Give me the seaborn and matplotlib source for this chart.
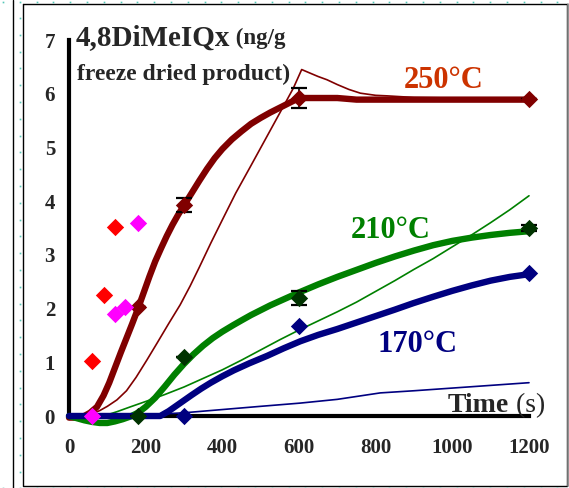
"""Formation of 4,8DiMeIQx vs heating time at three temperatures."""

import matplotlib
matplotlib.use("Agg")
import matplotlib.pyplot as plt
from matplotlib.lines import Line2D
import numpy as np
import seaborn as sns

# --- fitted curves (thick) and model curves (thin) ---
fit250_x = [0, 20, 40, 55, 73, 90, 105, 120, 135, 150, 165, 180, 195, 210, 225, 240, 255, 270,
            285, 300, 320, 340, 360, 380, 400, 425, 450, 475, 500, 525, 550, 575, 600, 700,
            750, 1200]
fit250_y = [-0.03, -0.03, 0.0, 0.06, 0.17, 0.38, 0.62, 0.9, 1.18, 1.45, 1.72, 2.0, 2.3, 2.6,
            2.88, 3.12, 3.35, 3.56, 3.75, 3.92, 4.15, 4.38, 4.6, 4.8, 4.97, 5.15, 5.3, 5.44,
            5.55, 5.65, 5.74, 5.83, 5.92, 5.92, 5.89, 5.89]
mod250_x = [30, 50, 63, 80, 100, 125, 150, 175, 203, 230, 260, 290, 316, 340, 370, 402, 435,
            473, 516, 559, 585, 607, 630, 650, 673, 700, 730, 760, 800, 830, 900, 1000, 1200]
mod250_y = [0.0, 0.02, 0.05, 0.1, 0.18, 0.3, 0.47, 0.72, 1.04, 1.36, 1.72, 2.07, 2.42, 2.77,
            3.22, 3.68, 4.15, 4.64, 5.2, 5.76, 6.1, 6.45, 6.38, 6.32, 6.26, 6.17, 6.08, 6.01,
            5.97, 5.96, 5.93, 5.92, 5.92]

fit210_x = [0, 20, 40, 60, 80, 100, 120, 140, 160, 180, 200, 225, 250, 275, 300, 325, 350, 375,
            400, 428, 450, 475, 500, 525, 550, 575, 600, 650, 700, 750, 800, 850, 900, 950,
            1000, 1050, 1100, 1150, 1200]
fit210_y = [0, -0.04, -0.08, -0.11, -0.13, -0.13, -0.1, -0.06, -0.01, 0.06, 0.17, 0.34, 0.55,
            0.77, 0.97, 1.15, 1.31, 1.45, 1.57, 1.69, 1.78, 1.88, 1.97, 2.06, 2.14, 2.22, 2.3,
            2.45, 2.59, 2.72, 2.85, 2.97, 3.08, 3.18, 3.26, 3.32, 3.37, 3.41, 3.44]
mod210_x = [0, 30, 60, 90, 125, 160, 200, 250, 300, 350, 400, 450, 500, 550, 600, 650, 700,
            750, 800, 850, 900, 950, 1000, 1050, 1100, 1150, 1200]
mod210_y = [0, -0.02, -0.03, 0.0, 0.08, 0.17, 0.27, 0.4, 0.54, 0.7, 0.86, 1.04, 1.23, 1.42,
            1.6, 1.77, 1.94, 2.12, 2.32, 2.52, 2.73, 2.93, 3.15, 3.37, 3.6, 3.84, 4.1]

fit170_x = [0, 100, 200, 238, 260, 290, 320, 345, 370, 400, 430, 470, 517, 560, 603, 650, 700,
            750, 800, 850, 898, 950, 1000, 1050, 1100, 1150, 1200]
fit170_y = [0, 0, 0, 0.0, 0.09, 0.24, 0.39, 0.51, 0.62, 0.74, 0.85, 0.98, 1.12, 1.26, 1.39,
            1.51, 1.62, 1.74, 1.86, 1.98, 2.1, 2.22, 2.33, 2.43, 2.52, 2.59, 2.64]
mod170_x = [0, 100, 200, 300, 400, 500, 603, 700, 812, 900, 1000, 1100, 1200]
mod170_y = [0, 0, 0.02, 0.06, 0.12, 0.18, 0.24, 0.31, 0.43, 0.47, 0.52, 0.57, 0.62]

# --- measured points ---
pts250_x = [180, 300, 600, 1200]
pts250_y = [2.02, 3.92, 5.92, 5.9]
err250 = [0, 0.13, 0.18, 0]
pts210_x = [180, 300, 600, 1200]
pts210_y = [0, 1.1, 2.2, 3.5]
err210 = [0, 0, 0.13, 0.06]
pts170_x = [300, 600, 1200]
pts170_y = [0, 1.67, 2.67]
red_x = [60, 90, 120]
red_y = [1.03, 2.25, 3.52]
pink_x = [60, 120, 145, 180]
pink_y = [0, 1.9, 2.03, 3.6]

x_ticks = [0, 200, 400, 600, 800, 1000, 1200]
y_ticks = [0, 1, 2, 3, 4, 5, 6, 7]

W, H = 569, 488

sns.set_style("white")
plt.rcParams["font.family"] = ["Liberation Serif", "DejaVu Serif"]

fig = plt.figure(figsize=(W / 100, H / 100), dpi=100)
ax = fig.add_axes([69 / W, 1 - 416 / H, (529 - 69) / W, (416 - 40) / H])

DARKRED, GREEN, NAVY = "#800000", "#008000", "#000080"

curves = [
    (fit250_x, fit250_y, DARKRED, 4.6),
    (mod250_x, mod250_y, DARKRED, 1.2),
    (fit210_x, fit210_y, GREEN, 4.6),
    (mod210_x, mod210_y, GREEN, 1.2),
    (fit170_x, fit170_y, NAVY, 4.6),
    (mod170_x, mod170_y, NAVY, 1.2),
]
for xs, ys, col, lw in curves:
    sns.lineplot(x=xs, y=ys, color=col, linewidth=lw, sort=False, estimator=None,
                 ax=ax, clip_on=False, zorder=3)

# error bars
for xs, ys, es in [(pts250_x, pts250_y, err250), (pts210_x, pts210_y, err210)]:
    ax.errorbar(xs, ys, yerr=es, fmt="none", ecolor="black", elinewidth=1.2,
                capsize=6, capthick=1.6, zorder=4, clip_on=False)

markers = [
    (pts250_x, pts250_y, DARKRED),
    (pts210_x, pts210_y, "#003300"),
    (pts170_x, pts170_y, NAVY),
    (red_x, red_y, "#ff0000"),
    (pink_x, pink_y, "#ff00ff"),
]
for xs, ys, col in markers:
    sns.scatterplot(x=xs, y=ys, color=col, marker="D", s=78, linewidth=0,
                    ax=ax, clip_on=False, zorder=5)

ax.set_xlim(0, 1200)
ax.set_ylim(0, 7)
ax.set_xticks(x_ticks)
ax.set_yticks(y_ticks)
for side in ["top", "right"]:
    ax.spines[side].set_visible(False)
for side in ["left", "bottom"]:
    ax.spines[side].set_linewidth(3)
    ax.spines[side].set_color("black")
    ax.spines[side].set_zorder(2.5)
ax.tick_params(axis="both", direction="out", length=5, width=3, color="black",
               labelsize=15)
ax.tick_params(axis="x", pad=11)
ax.tick_params(axis="y", pad=5)
for lab in ax.get_xticklabels() + ax.get_yticklabels():
    lab.set_fontweight("bold")
ax.set_xlabel("")
ax.set_ylabel("")

# temperature labels
ax.text(976, 6.11, "250°C", color="#cc3300", fontsize=22, fontweight="bold",
        ha="center", va="baseline")
ax.text(838, 3.31, "210°C", color=GREEN, fontsize=22, fontweight="bold",
        ha="center", va="baseline")
ax.text(909, 1.19, "170°C", color=NAVY, fontsize=22, fontweight="bold",
        ha="center", va="baseline")

# y-axis title inside the plot
t1 = ax.text(18, 6.91, "4,8DiMeIQx", fontsize=21, fontweight="bold",
             ha="left", va="baseline")
ax.annotate(" (ng/g", xy=(1, 0), xycoords=t1, xytext=(0, 1.3),
            textcoords="offset points", fontsize=16.5, fontweight="bold",
            ha="left", va="bottom")
ax.text(21, 6.26, "freeze dried product)", fontsize=17, fontweight="bold",
        ha="left", va="baseline")

# x-axis title
t2 = ax.text(987, 0.08, "Time", fontsize=20, fontweight="bold",
             ha="left", va="baseline", zorder=6)
ax.annotate(" (s)", xy=(1, 0), xycoords=t2, xytext=(0, 0),
            textcoords="offset points", fontsize=20, fontweight="normal",
            ha="left", va="bottom", zorder=6)


# chart frame like the spreadsheet object
def px_line(xs, ys, **kw):
    fig.add_artist(Line2D([x / W for x in xs], [1 - y / H for y in ys],
                          transform=fig.transFigure, **kw))


px_line([13, 13], [0, H], color="black", linewidth=1.0)
px_line([23, 567, 567, 23, 23], [4, 4, 486, 486, 4], color="black", linewidth=1.0)
px_line([567.5, 567.5], [4, 486], color="#888888", linewidth=1.2)

dots_top = np.arange(3, W, 16.8)
dots_left = np.arange(18, H, 16.8)
dot_kw = dict(transform=fig.transFigure, linestyle="none", marker="s",
              markersize=1.2, color="#55c8b8", markeredgewidth=0)
fig.add_artist(Line2D(dots_top / W, np.full(len(dots_top), 1 - 1.5 / H), **dot_kw))
fig.add_artist(Line2D(dots_top / W, np.full(len(dots_top), 1 - 487.5 / H), **dot_kw))
fig.add_artist(Line2D(np.full(len(dots_left), 20 / W), 1 - dots_left / H, **dot_kw))

fig.savefig("out.png", dpi=100)
